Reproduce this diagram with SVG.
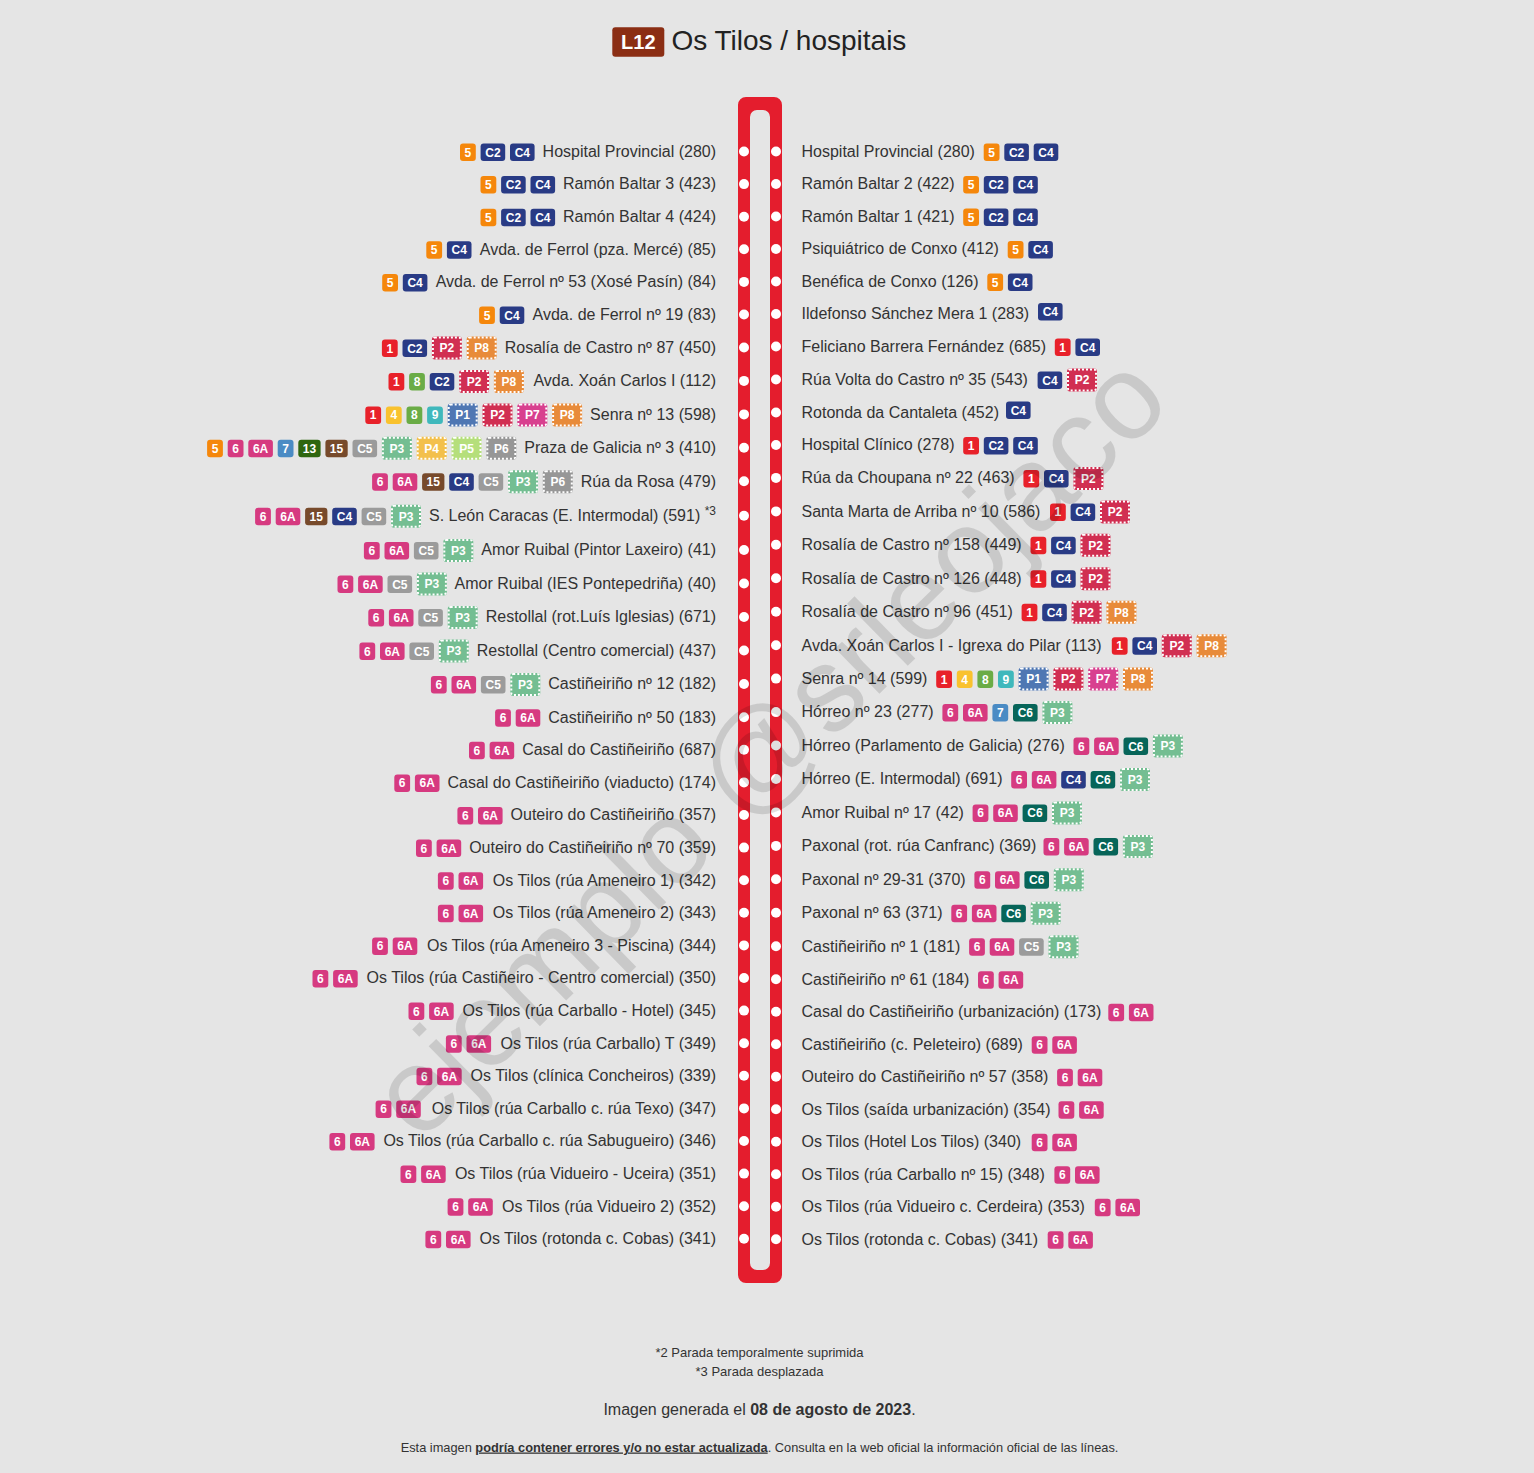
<svg xmlns="http://www.w3.org/2000/svg" width="1534" height="1473" viewBox="0 0 1534 1473">
<style>
text{font-family:"Liberation Sans",Arial,sans-serif}
.s{font-size:16px;fill:#333}
.e{text-anchor:end}
.x{font-size:12px;font-weight:bold;fill:#fff;text-anchor:middle}
.d{fill:none;stroke:#fff;stroke-width:2;stroke-dasharray:2 2}
.o{fill:#fff}
.k1{fill:#e8212a}.k4{fill:#f9c22e}.k5{fill:#f5870b}.k6{fill:#d63a80}.k7{fill:#4a8bc4}.k8{fill:#6aac46}.k9{fill:#3fb8bc}
.k13{fill:#2e660f}.k15{fill:#774a2b}.kc{fill:#293b85}.kc5{fill:#9b9b9b}.kc6{fill:#076559}
.p1{fill:#4f77b3}.p2{fill:#d12f52}.p3{fill:#74be92}.p4{fill:#f3c04c}.p5{fill:#b5df7b}.p6{fill:#979797}.p7{fill:#d8408f}.p8{fill:#e88b3a}
.f{fill:#333;text-anchor:middle}
</style>
<rect width="1534" height="1473" fill="#e5e5e5"/>
<g id="title">
<rect x="612.3" y="27.3" width="52" height="29.4" rx="3" fill="#8b2e14"/>
<text x="638.3" y="49.3" font-size="20" font-weight="bold" fill="#fff" text-anchor="middle">L12</text>
<text x="671.4" y="50" font-size="28" fill="#222">Os Tilos / hospitais</text>
</g>
<g id="connectors">
<path fill="#e41d2d" fill-rule="evenodd" d="M746,97 H774 A8,8 0 0 1 782,105 V1275 A8,8 0 0 1 774,1283 H746 A8,8 0 0 1 738,1275 V105 A8,8 0 0 1 746,97 Z M757,110 H763 A7,7 0 0 1 770,117 V1263 A7,7 0 0 1 763,1270 H757 A7,7 0 0 1 750,1263 V117 A7,7 0 0 1 757,110 Z"/>
</g>
<g id="stops-left">
<g id="l01" transform="translate(0,151)"><circle class="o" cx="744" cy="0.5" r="5"/><rect class="k5" x="460" y="-7.5" width="15.8" height="17.5" rx="3"/><text class="x" x="467.9" y="5.5">5</text><rect class="kc" x="480.6" y="-7.5" width="24.6" height="17.5" rx="3"/><text class="x" x="492.9" y="5.5">C2</text><rect class="kc" x="510" y="-7.5" width="24.6" height="17.5" rx="3"/><text class="x" x="522.3" y="5.5">C4</text><text class="s e" x="716" y="5.8">Hospital Provincial (280)</text></g>
<g id="l02" transform="translate(0,183.6)"><circle class="o" cx="744" cy="0.5" r="5"/><rect class="k5" x="480.5" y="-7.5" width="15.8" height="17.5" rx="3"/><text class="x" x="488.4" y="5.5">5</text><rect class="kc" x="501.1" y="-7.5" width="24.6" height="17.5" rx="3"/><text class="x" x="513.4" y="5.5">C2</text><rect class="kc" x="530.5" y="-7.5" width="24.6" height="17.5" rx="3"/><text class="x" x="542.8" y="5.5">C4</text><text class="s e" x="716" y="5.8">Ramón Baltar 3 (423)</text></g>
<g id="l03" transform="translate(0,216.2)"><circle class="o" cx="744" cy="0.5" r="5"/><rect class="k5" x="480.5" y="-7.5" width="15.8" height="17.5" rx="3"/><text class="x" x="488.4" y="5.5">5</text><rect class="kc" x="501.1" y="-7.5" width="24.6" height="17.5" rx="3"/><text class="x" x="513.4" y="5.5">C2</text><rect class="kc" x="530.5" y="-7.5" width="24.6" height="17.5" rx="3"/><text class="x" x="542.8" y="5.5">C4</text><text class="s e" x="716" y="5.8">Ramón Baltar 4 (424)</text></g>
<g id="l04" transform="translate(0,248.8)"><circle class="o" cx="744" cy="0.5" r="5"/><rect class="k5" x="426.3" y="-7.5" width="15.8" height="17.5" rx="3"/><text class="x" x="434.2" y="5.5">5</text><rect class="kc" x="446.9" y="-7.5" width="24.6" height="17.5" rx="3"/><text class="x" x="459.2" y="5.5">C4</text><text class="s e" x="716" y="5.8">Avda. de Ferrol (pza. Mercé) (85)</text></g>
<g id="l05" transform="translate(0,281.4)"><circle class="o" cx="744" cy="0.5" r="5"/><rect class="k5" x="382.2" y="-7.5" width="15.8" height="17.5" rx="3"/><text class="x" x="390.1" y="5.5">5</text><rect class="kc" x="402.8" y="-7.5" width="24.6" height="17.5" rx="3"/><text class="x" x="415.1" y="5.5">C4</text><text class="s e" x="716" y="5.8">Avda. de Ferrol nº 53 (Xosé Pasín) (84)</text></g>
<g id="l06" transform="translate(0,314)"><circle class="o" cx="744" cy="0.5" r="5"/><rect class="k5" x="479.1" y="-7.5" width="15.8" height="17.5" rx="3"/><text class="x" x="487" y="5.5">5</text><rect class="kc" x="499.7" y="-7.5" width="24.6" height="17.5" rx="3"/><text class="x" x="512" y="5.5">C4</text><text class="s e" x="716" y="5.8">Avda. de Ferrol nº 19 (83)</text></g>
<g id="l07" transform="translate(0,347)"><circle class="o" cx="744" cy="0.5" r="5"/><rect class="k1" x="381.9" y="-7.5" width="15.8" height="17.5" rx="3"/><text class="x" x="389.8" y="5.5">1</text><rect class="kc" x="402.5" y="-7.5" width="24.6" height="17.5" rx="3"/><text class="x" x="414.8" y="5.5">C2</text><rect class="p2" x="431.9" y="-10.5" width="30" height="23" rx="3"/><rect class="d" x="432.9" y="-9.5" width="28" height="21" rx="2"/><text class="x" x="446.9" y="5.3">P2</text><rect class="p8" x="466.7" y="-10.5" width="30" height="23" rx="3"/><rect class="d" x="467.7" y="-9.5" width="28" height="21" rx="2"/><text class="x" x="481.7" y="5.3">P8</text><text class="s e" x="716" y="5.8">Rosalía de Castro nº 87 (450)</text></g>
<g id="l08" transform="translate(0,380.4)"><circle class="o" cx="744" cy="0.5" r="5"/><rect class="k1" x="388.5" y="-7.5" width="15.8" height="17.5" rx="3"/><text class="x" x="396.4" y="5.5">1</text><rect class="k8" x="409.1" y="-7.5" width="15.8" height="17.5" rx="3"/><text class="x" x="417" y="5.5">8</text><rect class="kc" x="429.7" y="-7.5" width="24.6" height="17.5" rx="3"/><text class="x" x="442" y="5.5">C2</text><rect class="p2" x="459.1" y="-10.5" width="30" height="23" rx="3"/><rect class="d" x="460.1" y="-9.5" width="28" height="21" rx="2"/><text class="x" x="474.1" y="5.3">P2</text><rect class="p8" x="493.9" y="-10.5" width="30" height="23" rx="3"/><rect class="d" x="494.9" y="-9.5" width="28" height="21" rx="2"/><text class="x" x="508.9" y="5.3">P8</text><text class="s e" x="716" y="5.8">Avda. Xoán Carlos I (112)</text></g>
<g id="l09" transform="translate(0,413.9)"><circle class="o" cx="744" cy="0.5" r="5"/><rect class="k1" x="365.3" y="-7.5" width="15.8" height="17.5" rx="3"/><text class="x" x="373.2" y="5.5">1</text><rect class="k4" x="385.9" y="-7.5" width="15.8" height="17.5" rx="3"/><text class="x" x="393.8" y="5.5">4</text><rect class="k8" x="406.5" y="-7.5" width="15.8" height="17.5" rx="3"/><text class="x" x="414.4" y="5.5">8</text><rect class="k9" x="427.1" y="-7.5" width="15.8" height="17.5" rx="3"/><text class="x" x="435" y="5.5">9</text><rect class="p1" x="447.7" y="-10.5" width="30" height="23" rx="3"/><rect class="d" x="448.7" y="-9.5" width="28" height="21" rx="2"/><text class="x" x="462.7" y="5.3">P1</text><rect class="p2" x="482.5" y="-10.5" width="30" height="23" rx="3"/><rect class="d" x="483.5" y="-9.5" width="28" height="21" rx="2"/><text class="x" x="497.5" y="5.3">P2</text><rect class="p7" x="517.3" y="-10.5" width="30" height="23" rx="3"/><rect class="d" x="518.3" y="-9.5" width="28" height="21" rx="2"/><text class="x" x="532.3" y="5.3">P7</text><rect class="p8" x="552.1" y="-10.5" width="30" height="23" rx="3"/><rect class="d" x="553.1" y="-9.5" width="28" height="21" rx="2"/><text class="x" x="567.1" y="5.3">P8</text><text class="s e" x="716" y="5.8">Senra nº 13 (598)</text></g>
<g id="l10" transform="translate(0,447.3)"><circle class="o" cx="744" cy="0.5" r="5"/><rect class="k5" x="207.1" y="-7.5" width="15.8" height="17.5" rx="3"/><text class="x" x="215" y="5.5">5</text><rect class="k6" x="227.7" y="-7.5" width="15.8" height="17.5" rx="3"/><text class="x" x="235.6" y="5.5">6</text><rect class="k6" x="248.3" y="-7.5" width="24.6" height="17.5" rx="3"/><text class="x" x="260.6" y="5.5">6A</text><rect class="k7" x="277.7" y="-7.5" width="15.8" height="17.5" rx="3"/><text class="x" x="285.6" y="5.5">7</text><rect class="k13" x="298.3" y="-7.5" width="22.3" height="17.5" rx="3"/><text class="x" x="309.45" y="5.5">13</text><rect class="k15" x="325.4" y="-7.5" width="22.3" height="17.5" rx="3"/><text class="x" x="336.55" y="5.5">15</text><rect class="kc5" x="352.5" y="-7.5" width="24.6" height="17.5" rx="3"/><text class="x" x="364.8" y="5.5">C5</text><rect class="p3" x="381.9" y="-10.5" width="30" height="23" rx="3"/><rect class="d" x="382.9" y="-9.5" width="28" height="21" rx="2"/><text class="x" x="396.9" y="5.3">P3</text><rect class="p4" x="416.7" y="-10.5" width="30" height="23" rx="3"/><rect class="d" x="417.7" y="-9.5" width="28" height="21" rx="2"/><text class="x" x="431.7" y="5.3">P4</text><rect class="p5" x="451.5" y="-10.5" width="30" height="23" rx="3"/><rect class="d" x="452.5" y="-9.5" width="28" height="21" rx="2"/><text class="x" x="466.5" y="5.3">P5</text><rect class="p6" x="486.3" y="-10.5" width="30" height="23" rx="3"/><rect class="d" x="487.3" y="-9.5" width="28" height="21" rx="2"/><text class="x" x="501.3" y="5.3">P6</text><text class="s e" x="716" y="5.8">Praza de Galicia nº 3 (410)</text></g>
<g id="l11" transform="translate(0,480.8)"><circle class="o" cx="744" cy="0.5" r="5"/><rect class="k6" x="372.1" y="-7.5" width="15.8" height="17.5" rx="3"/><text class="x" x="380" y="5.5">6</text><rect class="k6" x="392.7" y="-7.5" width="24.6" height="17.5" rx="3"/><text class="x" x="405" y="5.5">6A</text><rect class="k15" x="422.1" y="-7.5" width="22.3" height="17.5" rx="3"/><text class="x" x="433.25" y="5.5">15</text><rect class="kc" x="449.2" y="-7.5" width="24.6" height="17.5" rx="3"/><text class="x" x="461.5" y="5.5">C4</text><rect class="kc5" x="478.6" y="-7.5" width="24.6" height="17.5" rx="3"/><text class="x" x="490.9" y="5.5">C5</text><rect class="p3" x="508" y="-10.5" width="30" height="23" rx="3"/><rect class="d" x="509" y="-9.5" width="28" height="21" rx="2"/><text class="x" x="523" y="5.3">P3</text><rect class="p6" x="542.8" y="-10.5" width="30" height="23" rx="3"/><rect class="d" x="543.8" y="-9.5" width="28" height="21" rx="2"/><text class="x" x="557.8" y="5.3">P6</text><text class="s e" x="716" y="5.8">Rúa da Rosa (479)</text></g>
<g id="l12" transform="translate(0,515.3)"><circle class="o" cx="744" cy="0.5" r="5"/><rect class="k6" x="255.1" y="-7.5" width="15.8" height="17.5" rx="3"/><text class="x" x="263" y="5.5">6</text><rect class="k6" x="275.7" y="-7.5" width="24.6" height="17.5" rx="3"/><text class="x" x="288" y="5.5">6A</text><rect class="k15" x="305.1" y="-7.5" width="22.3" height="17.5" rx="3"/><text class="x" x="316.25" y="5.5">15</text><rect class="kc" x="332.2" y="-7.5" width="24.6" height="17.5" rx="3"/><text class="x" x="344.5" y="5.5">C4</text><rect class="kc5" x="361.6" y="-7.5" width="24.6" height="17.5" rx="3"/><text class="x" x="373.9" y="5.5">C5</text><rect class="p3" x="391" y="-10.5" width="30" height="23" rx="3"/><rect class="d" x="392" y="-9.5" width="28" height="21" rx="2"/><text class="x" x="406" y="5.3">P3</text><text class="s e" x="716" y="5.8">S. León Caracas (E. Intermodal) (591) <tspan font-size="12" dy="-6">*3</tspan></text></g>
<g id="l13" transform="translate(0,549.5)"><circle class="o" cx="744" cy="0.5" r="5"/><rect class="k6" x="363.9" y="-7.5" width="15.8" height="17.5" rx="3"/><text class="x" x="371.8" y="5.5">6</text><rect class="k6" x="384.5" y="-7.5" width="24.6" height="17.5" rx="3"/><text class="x" x="396.8" y="5.5">6A</text><rect class="kc5" x="413.9" y="-7.5" width="24.6" height="17.5" rx="3"/><text class="x" x="426.2" y="5.5">C5</text><rect class="p3" x="443.3" y="-10.5" width="30" height="23" rx="3"/><rect class="d" x="444.3" y="-9.5" width="28" height="21" rx="2"/><text class="x" x="458.3" y="5.3">P3</text><text class="s e" x="716" y="5.8">Amor Ruibal (Pintor Laxeiro) (41)</text></g>
<g id="l14" transform="translate(0,583)"><circle class="o" cx="744" cy="0.5" r="5"/><rect class="k6" x="337.5" y="-7.5" width="15.8" height="17.5" rx="3"/><text class="x" x="345.4" y="5.5">6</text><rect class="k6" x="358.1" y="-7.5" width="24.6" height="17.5" rx="3"/><text class="x" x="370.4" y="5.5">6A</text><rect class="kc5" x="387.5" y="-7.5" width="24.6" height="17.5" rx="3"/><text class="x" x="399.8" y="5.5">C5</text><rect class="p3" x="416.9" y="-10.5" width="30" height="23" rx="3"/><rect class="d" x="417.9" y="-9.5" width="28" height="21" rx="2"/><text class="x" x="431.9" y="5.3">P3</text><text class="s e" x="716" y="5.8">Amor Ruibal (IES Pontepedriña) (40)</text></g>
<g id="l15" transform="translate(0,616.5)"><circle class="o" cx="744" cy="0.5" r="5"/><rect class="k6" x="368.3" y="-7.5" width="15.8" height="17.5" rx="3"/><text class="x" x="376.2" y="5.5">6</text><rect class="k6" x="388.9" y="-7.5" width="24.6" height="17.5" rx="3"/><text class="x" x="401.2" y="5.5">6A</text><rect class="kc5" x="418.3" y="-7.5" width="24.6" height="17.5" rx="3"/><text class="x" x="430.6" y="5.5">C5</text><rect class="p3" x="447.7" y="-10.5" width="30" height="23" rx="3"/><rect class="d" x="448.7" y="-9.5" width="28" height="21" rx="2"/><text class="x" x="462.7" y="5.3">P3</text><text class="s e" x="716" y="5.8">Restollal (rot.Luís Iglesias) (671)</text></g>
<g id="l16" transform="translate(0,650)"><circle class="o" cx="744" cy="0.5" r="5"/><rect class="k6" x="359.4" y="-7.5" width="15.8" height="17.5" rx="3"/><text class="x" x="367.3" y="5.5">6</text><rect class="k6" x="380" y="-7.5" width="24.6" height="17.5" rx="3"/><text class="x" x="392.3" y="5.5">6A</text><rect class="kc5" x="409.4" y="-7.5" width="24.6" height="17.5" rx="3"/><text class="x" x="421.7" y="5.5">C5</text><rect class="p3" x="438.8" y="-10.5" width="30" height="23" rx="3"/><rect class="d" x="439.8" y="-9.5" width="28" height="21" rx="2"/><text class="x" x="453.8" y="5.3">P3</text><text class="s e" x="716" y="5.8">Restollal (Centro comercial) (437)</text></g>
<g id="l17" transform="translate(0,683.5)"><circle class="o" cx="744" cy="0.5" r="5"/><rect class="k6" x="430.9" y="-7.5" width="15.8" height="17.5" rx="3"/><text class="x" x="438.8" y="5.5">6</text><rect class="k6" x="451.5" y="-7.5" width="24.6" height="17.5" rx="3"/><text class="x" x="463.8" y="5.5">6A</text><rect class="kc5" x="480.9" y="-7.5" width="24.6" height="17.5" rx="3"/><text class="x" x="493.2" y="5.5">C5</text><rect class="p3" x="510.3" y="-10.5" width="30" height="23" rx="3"/><rect class="d" x="511.3" y="-9.5" width="28" height="21" rx="2"/><text class="x" x="525.3" y="5.3">P3</text><text class="s e" x="716" y="5.8">Castiñeiriño nº 12 (182)</text></g>
<g id="l18" transform="translate(0,716.7)"><circle class="o" cx="744" cy="0.5" r="5"/><rect class="k6" x="495.1" y="-7.5" width="15.8" height="17.5" rx="3"/><text class="x" x="503" y="5.5">6</text><rect class="k6" x="515.7" y="-7.5" width="24.6" height="17.5" rx="3"/><text class="x" x="528" y="5.5">6A</text><text class="s e" x="716" y="5.8">Castiñeiriño nº 50 (183)</text></g>
<g id="l19" transform="translate(0,749.3)"><circle class="o" cx="744" cy="0.5" r="5"/><rect class="k6" x="469" y="-7.5" width="15.8" height="17.5" rx="3"/><text class="x" x="476.9" y="5.5">6</text><rect class="k6" x="489.6" y="-7.5" width="24.6" height="17.5" rx="3"/><text class="x" x="501.9" y="5.5">6A</text><text class="s e" x="716" y="5.8">Casal do Castiñeiriño (687)</text></g>
<g id="l20" transform="translate(0,781.9)"><circle class="o" cx="744" cy="0.5" r="5"/><rect class="k6" x="394.3" y="-7.5" width="15.8" height="17.5" rx="3"/><text class="x" x="402.2" y="5.5">6</text><rect class="k6" x="414.9" y="-7.5" width="24.6" height="17.5" rx="3"/><text class="x" x="427.2" y="5.5">6A</text><text class="s e" x="716" y="5.8">Casal do Castiñeiriño (viaducto) (174)</text></g>
<g id="l21" transform="translate(0,814.5)"><circle class="o" cx="744" cy="0.5" r="5"/><rect class="k6" x="457.4" y="-7.5" width="15.8" height="17.5" rx="3"/><text class="x" x="465.3" y="5.5">6</text><rect class="k6" x="478" y="-7.5" width="24.6" height="17.5" rx="3"/><text class="x" x="490.3" y="5.5">6A</text><text class="s e" x="716" y="5.8">Outeiro do Castiñeiriño (357)</text></g>
<g id="l22" transform="translate(0,847.1)"><circle class="o" cx="744" cy="0.5" r="5"/><rect class="k6" x="416" y="-7.5" width="15.8" height="17.5" rx="3"/><text class="x" x="423.9" y="5.5">6</text><rect class="k6" x="436.6" y="-7.5" width="24.6" height="17.5" rx="3"/><text class="x" x="448.9" y="5.5">6A</text><text class="s e" x="716" y="5.8">Outeiro do Castiñeiriño nº 70 (359)</text></g>
<g id="l23" transform="translate(0,879.7)"><circle class="o" cx="744" cy="0.5" r="5"/><rect class="k6" x="437.9" y="-7.5" width="15.8" height="17.5" rx="3"/><text class="x" x="445.8" y="5.5">6</text><rect class="k6" x="458.5" y="-7.5" width="24.6" height="17.5" rx="3"/><text class="x" x="470.8" y="5.5">6A</text><text class="s e" x="716" y="5.8">Os Tilos (rúa Ameneiro 1) (342)</text></g>
<g id="l24" transform="translate(0,912.3)"><circle class="o" cx="744" cy="0.5" r="5"/><rect class="k6" x="437.9" y="-7.5" width="15.8" height="17.5" rx="3"/><text class="x" x="445.8" y="5.5">6</text><rect class="k6" x="458.5" y="-7.5" width="24.6" height="17.5" rx="3"/><text class="x" x="470.8" y="5.5">6A</text><text class="s e" x="716" y="5.8">Os Tilos (rúa Ameneiro 2) (343)</text></g>
<g id="l25" transform="translate(0,944.9)"><circle class="o" cx="744" cy="0.5" r="5"/><rect class="k6" x="372.1" y="-7.5" width="15.8" height="17.5" rx="3"/><text class="x" x="380" y="5.5">6</text><rect class="k6" x="392.7" y="-7.5" width="24.6" height="17.5" rx="3"/><text class="x" x="405" y="5.5">6A</text><text class="s e" x="716" y="5.8">Os Tilos (rúa Ameneiro 3 - Piscina) (344)</text></g>
<g id="l26" transform="translate(0,977.5)"><circle class="o" cx="744" cy="0.5" r="5"/><rect class="k6" x="312.5" y="-7.5" width="15.8" height="17.5" rx="3"/><text class="x" x="320.4" y="5.5">6</text><rect class="k6" x="333.1" y="-7.5" width="24.6" height="17.5" rx="3"/><text class="x" x="345.4" y="5.5">6A</text><text class="s e" x="716" y="5.8">Os Tilos (rúa Castiñeiro - Centro comercial) (350)</text></g>
<g id="l27" transform="translate(0,1010.1)"><circle class="o" cx="744" cy="0.5" r="5"/><rect class="k6" x="408.5" y="-7.5" width="15.8" height="17.5" rx="3"/><text class="x" x="416.4" y="5.5">6</text><rect class="k6" x="429.1" y="-7.5" width="24.6" height="17.5" rx="3"/><text class="x" x="441.4" y="5.5">6A</text><text class="s e" x="716" y="5.8">Os Tilos (rúa Carballo - Hotel) (345)</text></g>
<g id="l28" transform="translate(0,1042.7)"><circle class="o" cx="744" cy="0.5" r="5"/><rect class="k6" x="445.9" y="-7.5" width="15.8" height="17.5" rx="3"/><text class="x" x="453.8" y="5.5">6</text><rect class="k6" x="466.5" y="-7.5" width="24.6" height="17.5" rx="3"/><text class="x" x="478.8" y="5.5">6A</text><text class="s e" x="716" y="5.8">Os Tilos (rúa Carballo) T (349)</text></g>
<g id="l29" transform="translate(0,1075.3)"><circle class="o" cx="744" cy="0.5" r="5"/><rect class="k6" x="416.5" y="-7.5" width="15.8" height="17.5" rx="3"/><text class="x" x="424.4" y="5.5">6</text><rect class="k6" x="437.1" y="-7.5" width="24.6" height="17.5" rx="3"/><text class="x" x="449.4" y="5.5">6A</text><text class="s e" x="716" y="5.8">Os Tilos (clínica Concheiros) (339)</text></g>
<g id="l30" transform="translate(0,1107.9)"><circle class="o" cx="744" cy="0.5" r="5"/><rect class="k6" x="375.6" y="-7.5" width="15.8" height="17.5" rx="3"/><text class="x" x="383.5" y="5.5">6</text><rect class="k6" x="396.2" y="-7.5" width="24.6" height="17.5" rx="3"/><text class="x" x="408.5" y="5.5">6A</text><text class="s e" x="716" y="5.8">Os Tilos (rúa Carballo c. rúa Texo) (347)</text></g>
<g id="l31" transform="translate(0,1140.5)"><circle class="o" cx="744" cy="0.5" r="5"/><rect class="k6" x="329.4" y="-7.5" width="15.8" height="17.5" rx="3"/><text class="x" x="337.3" y="5.5">6</text><rect class="k6" x="350" y="-7.5" width="24.6" height="17.5" rx="3"/><text class="x" x="362.3" y="5.5">6A</text><text class="s e" x="716" y="5.8">Os Tilos (rúa Carballo c. rúa Sabugueiro) (346)</text></g>
<g id="l32" transform="translate(0,1173.1)"><circle class="o" cx="744" cy="0.5" r="5"/><rect class="k6" x="400.5" y="-7.5" width="15.8" height="17.5" rx="3"/><text class="x" x="408.4" y="5.5">6</text><rect class="k6" x="421.1" y="-7.5" width="24.6" height="17.5" rx="3"/><text class="x" x="433.4" y="5.5">6A</text><text class="s e" x="716" y="5.8">Os Tilos (rúa Vidueiro - Uceira) (351)</text></g>
<g id="l33" transform="translate(0,1205.7)"><circle class="o" cx="744" cy="0.5" r="5"/><rect class="k6" x="447.6" y="-7.5" width="15.8" height="17.5" rx="3"/><text class="x" x="455.5" y="5.5">6</text><rect class="k6" x="468.2" y="-7.5" width="24.6" height="17.5" rx="3"/><text class="x" x="480.5" y="5.5">6A</text><text class="s e" x="716" y="5.8">Os Tilos (rúa Vidueiro 2) (352)</text></g>
<g id="l34" transform="translate(0,1238.3)"><circle class="o" cx="744" cy="0.5" r="5"/><rect class="k6" x="425.4" y="-7.5" width="15.8" height="17.5" rx="3"/><text class="x" x="433.3" y="5.5">6</text><rect class="k6" x="446" y="-7.5" width="24.6" height="17.5" rx="3"/><text class="x" x="458.3" y="5.5">6A</text><text class="s e" x="716" y="5.8">Os Tilos (rotonda c. Cobas) (341)</text></g>
</g>
<g id="stops-right">
<g id="r01" transform="translate(0,151)"><circle class="o" cx="776" cy="0.5" r="5"/><text class="s" x="801.5" y="5.8">Hospital Provincial (280)</text><rect class="k5" x="983.7" y="-7.5" width="15.8" height="17.5" rx="3"/><text class="x" x="991.6" y="5.5">5</text><rect class="kc" x="1004.3" y="-7.5" width="24.6" height="17.5" rx="3"/><text class="x" x="1016.6" y="5.5">C2</text><rect class="kc" x="1033.7" y="-7.5" width="24.6" height="17.5" rx="3"/><text class="x" x="1046" y="5.5">C4</text></g>
<g id="r02" transform="translate(0,183.5)"><circle class="o" cx="776" cy="0.5" r="5"/><text class="s" x="801.5" y="5.8">Ramón Baltar 2 (422)</text><rect class="k5" x="963.2" y="-7.5" width="15.8" height="17.5" rx="3"/><text class="x" x="971.1" y="5.5">5</text><rect class="kc" x="983.8" y="-7.5" width="24.6" height="17.5" rx="3"/><text class="x" x="996.1" y="5.5">C2</text><rect class="kc" x="1013.2" y="-7.5" width="24.6" height="17.5" rx="3"/><text class="x" x="1025.5" y="5.5">C4</text></g>
<g id="r03" transform="translate(0,216)"><circle class="o" cx="776" cy="0.5" r="5"/><text class="s" x="801.5" y="5.8">Ramón Baltar 1 (421)</text><rect class="k5" x="963.2" y="-7.5" width="15.8" height="17.5" rx="3"/><text class="x" x="971.1" y="5.5">5</text><rect class="kc" x="983.8" y="-7.5" width="24.6" height="17.5" rx="3"/><text class="x" x="996.1" y="5.5">C2</text><rect class="kc" x="1013.2" y="-7.5" width="24.6" height="17.5" rx="3"/><text class="x" x="1025.5" y="5.5">C4</text></g>
<g id="r04" transform="translate(0,248.5)"><circle class="o" cx="776" cy="0.5" r="5"/><text class="s" x="801.5" y="5.8">Psiquiátrico de Conxo (412)</text><rect class="k5" x="1007.7" y="-7.5" width="15.8" height="17.5" rx="3"/><text class="x" x="1015.6" y="5.5">5</text><rect class="kc" x="1028.3" y="-7.5" width="24.6" height="17.5" rx="3"/><text class="x" x="1040.6" y="5.5">C4</text></g>
<g id="r05" transform="translate(0,281)"><circle class="o" cx="776" cy="0.5" r="5"/><text class="s" x="801.5" y="5.8">Benéfica de Conxo (126)</text><rect class="k5" x="987.3" y="-7.5" width="15.8" height="17.5" rx="3"/><text class="x" x="995.2" y="5.5">5</text><rect class="kc" x="1007.9" y="-7.5" width="24.6" height="17.5" rx="3"/><text class="x" x="1020.2" y="5.5">C4</text></g>
<g id="r06" transform="translate(0,313.5)"><circle class="o" cx="776" cy="0.5" r="5"/><text class="s" x="801.5" y="5.8">Ildefonso Sánchez Mera 1 (283)</text><rect class="kc" x="1038" y="-10.5" width="24.6" height="17.5" rx="3"/><text class="x" x="1050.3" y="2.5">C4</text></g>
<g id="r07" transform="translate(0,346)"><circle class="o" cx="776" cy="0.5" r="5"/><text class="s" x="801.5" y="5.8">Feliciano Barrera Fernández (685)</text><rect class="k1" x="1054.8" y="-7.5" width="15.8" height="17.5" rx="3"/><text class="x" x="1062.7" y="5.5">1</text><rect class="kc" x="1075.4" y="-7.5" width="24.6" height="17.5" rx="3"/><text class="x" x="1087.7" y="5.5">C4</text></g>
<g id="r08" transform="translate(0,379)"><circle class="o" cx="776" cy="0.5" r="5"/><text class="s" x="801.5" y="5.8">Rúa Volta do Castro nº 35 (543)</text><rect class="kc" x="1037.6" y="-7.5" width="24.6" height="17.5" rx="3"/><text class="x" x="1049.9" y="5.5">C4</text><rect class="p2" x="1067" y="-10.5" width="30" height="23" rx="3"/><rect class="d" x="1068" y="-9.5" width="28" height="21" rx="2"/><text class="x" x="1082" y="5.3">P2</text></g>
<g id="r09" transform="translate(0,412)"><circle class="o" cx="776" cy="0.5" r="5"/><text class="s" x="801.5" y="5.8">Rotonda da Cantaleta (452)</text><rect class="kc" x="1006" y="-10.5" width="24.6" height="17.5" rx="3"/><text class="x" x="1018.3" y="2.5">C4</text></g>
<g id="r10" transform="translate(0,444.5)"><circle class="o" cx="776" cy="0.5" r="5"/><text class="s" x="801.5" y="5.8">Hospital Clínico (278)</text><rect class="k1" x="963.2" y="-7.5" width="15.8" height="17.5" rx="3"/><text class="x" x="971.1" y="5.5">1</text><rect class="kc" x="983.8" y="-7.5" width="24.6" height="17.5" rx="3"/><text class="x" x="996.1" y="5.5">C2</text><rect class="kc" x="1013.2" y="-7.5" width="24.6" height="17.5" rx="3"/><text class="x" x="1025.5" y="5.5">C4</text></g>
<g id="r11" transform="translate(0,477.4)"><circle class="o" cx="776" cy="0.5" r="5"/><text class="s" x="801.5" y="5.8">Rúa da Choupana nº 22 (463)</text><rect class="k1" x="1023.4" y="-7.5" width="15.8" height="17.5" rx="3"/><text class="x" x="1031.3" y="5.5">1</text><rect class="kc" x="1044" y="-7.5" width="24.6" height="17.5" rx="3"/><text class="x" x="1056.3" y="5.5">C4</text><rect class="p2" x="1073.4" y="-10.5" width="30" height="23" rx="3"/><rect class="d" x="1074.4" y="-9.5" width="28" height="21" rx="2"/><text class="x" x="1088.4" y="5.3">P2</text></g>
<g id="r12" transform="translate(0,510.9)"><circle class="o" cx="776" cy="0.5" r="5"/><text class="s" x="801.5" y="5.8">Santa Marta de Arriba nº 10 (586)</text><rect class="k1" x="1050" y="-7.5" width="15.8" height="17.5" rx="3"/><text class="x" x="1057.9" y="5.5">1</text><rect class="kc" x="1070.6" y="-7.5" width="24.6" height="17.5" rx="3"/><text class="x" x="1082.9" y="5.5">C4</text><rect class="p2" x="1100" y="-10.5" width="30" height="23" rx="3"/><rect class="d" x="1101" y="-9.5" width="28" height="21" rx="2"/><text class="x" x="1115" y="5.3">P2</text></g>
<g id="r13" transform="translate(0,544.3)"><circle class="o" cx="776" cy="0.5" r="5"/><text class="s" x="801.5" y="5.8">Rosalía de Castro nº 158 (449)</text><rect class="k1" x="1030.5" y="-7.5" width="15.8" height="17.5" rx="3"/><text class="x" x="1038.4" y="5.5">1</text><rect class="kc" x="1051.1" y="-7.5" width="24.6" height="17.5" rx="3"/><text class="x" x="1063.4" y="5.5">C4</text><rect class="p2" x="1080.5" y="-10.5" width="30" height="23" rx="3"/><rect class="d" x="1081.5" y="-9.5" width="28" height="21" rx="2"/><text class="x" x="1095.5" y="5.3">P2</text></g>
<g id="r14" transform="translate(0,577.8)"><circle class="o" cx="776" cy="0.5" r="5"/><text class="s" x="801.5" y="5.8">Rosalía de Castro nº 126 (448)</text><rect class="k1" x="1030.5" y="-7.5" width="15.8" height="17.5" rx="3"/><text class="x" x="1038.4" y="5.5">1</text><rect class="kc" x="1051.1" y="-7.5" width="24.6" height="17.5" rx="3"/><text class="x" x="1063.4" y="5.5">C4</text><rect class="p2" x="1080.5" y="-10.5" width="30" height="23" rx="3"/><rect class="d" x="1081.5" y="-9.5" width="28" height="21" rx="2"/><text class="x" x="1095.5" y="5.3">P2</text></g>
<g id="r15" transform="translate(0,611.2)"><circle class="o" cx="776" cy="0.5" r="5"/><text class="s" x="801.5" y="5.8">Rosalía de Castro nº 96 (451)</text><rect class="k1" x="1021.6" y="-7.5" width="15.8" height="17.5" rx="3"/><text class="x" x="1029.5" y="5.5">1</text><rect class="kc" x="1042.2" y="-7.5" width="24.6" height="17.5" rx="3"/><text class="x" x="1054.5" y="5.5">C4</text><rect class="p2" x="1071.6" y="-10.5" width="30" height="23" rx="3"/><rect class="d" x="1072.6" y="-9.5" width="28" height="21" rx="2"/><text class="x" x="1086.6" y="5.3">P2</text><rect class="p8" x="1106.4" y="-10.5" width="30" height="23" rx="3"/><rect class="d" x="1107.4" y="-9.5" width="28" height="21" rx="2"/><text class="x" x="1121.4" y="5.3">P8</text></g>
<g id="r16" transform="translate(0,644.7)"><circle class="o" cx="776" cy="0.5" r="5"/><text class="s" x="801.5" y="5.8">Avda. Xoán Carlos I - Igrexa do Pilar (113)</text><rect class="k1" x="1111.8" y="-7.5" width="15.8" height="17.5" rx="3"/><text class="x" x="1119.7" y="5.5">1</text><rect class="kc" x="1132.4" y="-7.5" width="24.6" height="17.5" rx="3"/><text class="x" x="1144.7" y="5.5">C4</text><rect class="p2" x="1161.8" y="-10.5" width="30" height="23" rx="3"/><rect class="d" x="1162.8" y="-9.5" width="28" height="21" rx="2"/><text class="x" x="1176.8" y="5.3">P2</text><rect class="p8" x="1196.6" y="-10.5" width="30" height="23" rx="3"/><rect class="d" x="1197.6" y="-9.5" width="28" height="21" rx="2"/><text class="x" x="1211.6" y="5.3">P8</text></g>
<g id="r17" transform="translate(0,678.1)"><circle class="o" cx="776" cy="0.5" r="5"/><text class="s" x="801.5" y="5.8">Senra nº 14 (599)</text><rect class="k1" x="936.2" y="-7.5" width="15.8" height="17.5" rx="3"/><text class="x" x="944.1" y="5.5">1</text><rect class="k4" x="956.8" y="-7.5" width="15.8" height="17.5" rx="3"/><text class="x" x="964.7" y="5.5">4</text><rect class="k8" x="977.4" y="-7.5" width="15.8" height="17.5" rx="3"/><text class="x" x="985.3" y="5.5">8</text><rect class="k9" x="998" y="-7.5" width="15.8" height="17.5" rx="3"/><text class="x" x="1005.9" y="5.5">9</text><rect class="p1" x="1018.6" y="-10.5" width="30" height="23" rx="3"/><rect class="d" x="1019.6" y="-9.5" width="28" height="21" rx="2"/><text class="x" x="1033.6" y="5.3">P1</text><rect class="p2" x="1053.4" y="-10.5" width="30" height="23" rx="3"/><rect class="d" x="1054.4" y="-9.5" width="28" height="21" rx="2"/><text class="x" x="1068.4" y="5.3">P2</text><rect class="p7" x="1088.2" y="-10.5" width="30" height="23" rx="3"/><rect class="d" x="1089.2" y="-9.5" width="28" height="21" rx="2"/><text class="x" x="1103.2" y="5.3">P7</text><rect class="p8" x="1123" y="-10.5" width="30" height="23" rx="3"/><rect class="d" x="1124" y="-9.5" width="28" height="21" rx="2"/><text class="x" x="1138" y="5.3">P8</text></g>
<g id="r18" transform="translate(0,711.6)"><circle class="o" cx="776" cy="0.5" r="5"/><text class="s" x="801.5" y="5.8">Hórreo nº 23 (277)</text><rect class="k6" x="942.4" y="-7.5" width="15.8" height="17.5" rx="3"/><text class="x" x="950.3" y="5.5">6</text><rect class="k6" x="963" y="-7.5" width="24.6" height="17.5" rx="3"/><text class="x" x="975.3" y="5.5">6A</text><rect class="k7" x="992.4" y="-7.5" width="15.8" height="17.5" rx="3"/><text class="x" x="1000.3" y="5.5">7</text><rect class="kc6" x="1013" y="-7.5" width="24.6" height="17.5" rx="3"/><text class="x" x="1025.3" y="5.5">C6</text><rect class="p3" x="1042.4" y="-10.5" width="30" height="23" rx="3"/><rect class="d" x="1043.4" y="-9.5" width="28" height="21" rx="2"/><text class="x" x="1057.4" y="5.3">P3</text></g>
<g id="r19" transform="translate(0,745)"><circle class="o" cx="776" cy="0.5" r="5"/><text class="s" x="801.5" y="5.8">Hórreo (Parlamento de Galicia) (276)</text><rect class="k6" x="1073.5" y="-7.5" width="15.8" height="17.5" rx="3"/><text class="x" x="1081.4" y="5.5">6</text><rect class="k6" x="1094.1" y="-7.5" width="24.6" height="17.5" rx="3"/><text class="x" x="1106.4" y="5.5">6A</text><rect class="kc6" x="1123.5" y="-7.5" width="24.6" height="17.5" rx="3"/><text class="x" x="1135.8" y="5.5">C6</text><rect class="p3" x="1152.9" y="-10.5" width="30" height="23" rx="3"/><rect class="d" x="1153.9" y="-9.5" width="28" height="21" rx="2"/><text class="x" x="1167.9" y="5.3">P3</text></g>
<g id="r20" transform="translate(0,778.5)"><circle class="o" cx="776" cy="0.5" r="5"/><text class="s" x="801.5" y="5.8">Hórreo (E. Intermodal) (691)</text><rect class="k6" x="1011.2" y="-7.5" width="15.8" height="17.5" rx="3"/><text class="x" x="1019.1" y="5.5">6</text><rect class="k6" x="1031.8" y="-7.5" width="24.6" height="17.5" rx="3"/><text class="x" x="1044.1" y="5.5">6A</text><rect class="kc" x="1061.2" y="-7.5" width="24.6" height="17.5" rx="3"/><text class="x" x="1073.5" y="5.5">C4</text><rect class="kc6" x="1090.6" y="-7.5" width="24.6" height="17.5" rx="3"/><text class="x" x="1102.9" y="5.5">C6</text><rect class="p3" x="1120" y="-10.5" width="30" height="23" rx="3"/><rect class="d" x="1121" y="-9.5" width="28" height="21" rx="2"/><text class="x" x="1135" y="5.3">P3</text></g>
<g id="r21" transform="translate(0,811.9)"><circle class="o" cx="776" cy="0.5" r="5"/><text class="s" x="801.5" y="5.8">Amor Ruibal nº 17 (42)</text><rect class="k6" x="972.6" y="-7.5" width="15.8" height="17.5" rx="3"/><text class="x" x="980.5" y="5.5">6</text><rect class="k6" x="993.2" y="-7.5" width="24.6" height="17.5" rx="3"/><text class="x" x="1005.5" y="5.5">6A</text><rect class="kc6" x="1022.6" y="-7.5" width="24.6" height="17.5" rx="3"/><text class="x" x="1034.9" y="5.5">C6</text><rect class="p3" x="1052" y="-10.5" width="30" height="23" rx="3"/><rect class="d" x="1053" y="-9.5" width="28" height="21" rx="2"/><text class="x" x="1067" y="5.3">P3</text></g>
<g id="r22" transform="translate(0,845.4)"><circle class="o" cx="776" cy="0.5" r="5"/><text class="s" x="801.5" y="5.8">Paxonal (rot. rúa Canfranc) (369)</text><rect class="k6" x="1043.5" y="-7.5" width="15.8" height="17.5" rx="3"/><text class="x" x="1051.4" y="5.5">6</text><rect class="k6" x="1064.1" y="-7.5" width="24.6" height="17.5" rx="3"/><text class="x" x="1076.4" y="5.5">6A</text><rect class="kc6" x="1093.5" y="-7.5" width="24.6" height="17.5" rx="3"/><text class="x" x="1105.8" y="5.5">C6</text><rect class="p3" x="1122.9" y="-10.5" width="30" height="23" rx="3"/><rect class="d" x="1123.9" y="-9.5" width="28" height="21" rx="2"/><text class="x" x="1137.9" y="5.3">P3</text></g>
<g id="r23" transform="translate(0,878.8)"><circle class="o" cx="776" cy="0.5" r="5"/><text class="s" x="801.5" y="5.8">Paxonal nº 29-31 (370)</text><rect class="k6" x="974.4" y="-7.5" width="15.8" height="17.5" rx="3"/><text class="x" x="982.3" y="5.5">6</text><rect class="k6" x="995" y="-7.5" width="24.6" height="17.5" rx="3"/><text class="x" x="1007.3" y="5.5">6A</text><rect class="kc6" x="1024.4" y="-7.5" width="24.6" height="17.5" rx="3"/><text class="x" x="1036.7" y="5.5">C6</text><rect class="p3" x="1053.8" y="-10.5" width="30" height="23" rx="3"/><rect class="d" x="1054.8" y="-9.5" width="28" height="21" rx="2"/><text class="x" x="1068.8" y="5.3">P3</text></g>
<g id="r24" transform="translate(0,912.3)"><circle class="o" cx="776" cy="0.5" r="5"/><text class="s" x="801.5" y="5.8">Paxonal nº 63 (371)</text><rect class="k6" x="951.3" y="-7.5" width="15.8" height="17.5" rx="3"/><text class="x" x="959.2" y="5.5">6</text><rect class="k6" x="971.9" y="-7.5" width="24.6" height="17.5" rx="3"/><text class="x" x="984.2" y="5.5">6A</text><rect class="kc6" x="1001.3" y="-7.5" width="24.6" height="17.5" rx="3"/><text class="x" x="1013.6" y="5.5">C6</text><rect class="p3" x="1030.7" y="-10.5" width="30" height="23" rx="3"/><rect class="d" x="1031.7" y="-9.5" width="28" height="21" rx="2"/><text class="x" x="1045.7" y="5.3">P3</text></g>
<g id="r25" transform="translate(0,945.7)"><circle class="o" cx="776" cy="0.5" r="5"/><text class="s" x="801.5" y="5.8">Castiñeiriño nº 1 (181)</text><rect class="k6" x="969.1" y="-7.5" width="15.8" height="17.5" rx="3"/><text class="x" x="977" y="5.5">6</text><rect class="k6" x="989.7" y="-7.5" width="24.6" height="17.5" rx="3"/><text class="x" x="1002" y="5.5">6A</text><rect class="kc5" x="1019.1" y="-7.5" width="24.6" height="17.5" rx="3"/><text class="x" x="1031.4" y="5.5">C5</text><rect class="p3" x="1048.5" y="-10.5" width="30" height="23" rx="3"/><rect class="d" x="1049.5" y="-9.5" width="28" height="21" rx="2"/><text class="x" x="1063.5" y="5.3">P3</text></g>
<g id="r26" transform="translate(0,978.7)"><circle class="o" cx="776" cy="0.5" r="5"/><text class="s" x="801.5" y="5.8">Castiñeiriño nº 61 (184)</text><rect class="k6" x="978" y="-7.5" width="15.8" height="17.5" rx="3"/><text class="x" x="985.9" y="5.5">6</text><rect class="k6" x="998.6" y="-7.5" width="24.6" height="17.5" rx="3"/><text class="x" x="1010.9" y="5.5">6A</text></g>
<g id="r27" transform="translate(0,1011.2)"><circle class="o" cx="776" cy="0.5" r="5"/><text class="s" x="801.5" y="5.8">Casal do Castiñeiriño (urbanización) (173)</text><rect class="k6" x="1108.3" y="-7.5" width="15.8" height="17.5" rx="3"/><text class="x" x="1116.2" y="5.5">6</text><rect class="k6" x="1128.9" y="-7.5" width="24.6" height="17.5" rx="3"/><text class="x" x="1141.2" y="5.5">6A</text></g>
<g id="r28" transform="translate(0,1043.7)"><circle class="o" cx="776" cy="0.5" r="5"/><text class="s" x="801.5" y="5.8">Castiñeiriño (c. Peleteiro) (689)</text><rect class="k6" x="1031.7" y="-7.5" width="15.8" height="17.5" rx="3"/><text class="x" x="1039.6" y="5.5">6</text><rect class="k6" x="1052.3" y="-7.5" width="24.6" height="17.5" rx="3"/><text class="x" x="1064.6" y="5.5">6A</text></g>
<g id="r29" transform="translate(0,1076.2)"><circle class="o" cx="776" cy="0.5" r="5"/><text class="s" x="801.5" y="5.8">Outeiro do Castiñeiriño nº 57 (358)</text><rect class="k6" x="1057.1" y="-7.5" width="15.8" height="17.5" rx="3"/><text class="x" x="1065" y="5.5">6</text><rect class="k6" x="1077.7" y="-7.5" width="24.6" height="17.5" rx="3"/><text class="x" x="1090" y="5.5">6A</text></g>
<g id="r30" transform="translate(0,1108.7)"><circle class="o" cx="776" cy="0.5" r="5"/><text class="s" x="801.5" y="5.8">Os Tilos (saída urbanización) (354)</text><rect class="k6" x="1058.5" y="-7.5" width="15.8" height="17.5" rx="3"/><text class="x" x="1066.4" y="5.5">6</text><rect class="k6" x="1079.1" y="-7.5" width="24.6" height="17.5" rx="3"/><text class="x" x="1091.4" y="5.5">6A</text></g>
<g id="r31" transform="translate(0,1141.2)"><circle class="o" cx="776" cy="0.5" r="5"/><text class="s" x="801.5" y="5.8">Os Tilos (Hotel Los Tilos) (340)</text><rect class="k6" x="1031.7" y="-7.5" width="15.8" height="17.5" rx="3"/><text class="x" x="1039.6" y="5.5">6</text><rect class="k6" x="1052.3" y="-7.5" width="24.6" height="17.5" rx="3"/><text class="x" x="1064.6" y="5.5">6A</text></g>
<g id="r32" transform="translate(0,1173.7)"><circle class="o" cx="776" cy="0.5" r="5"/><text class="s" x="801.5" y="5.8">Os Tilos (rúa Carballo nº 15) (348)</text><rect class="k6" x="1054.4" y="-7.5" width="15.8" height="17.5" rx="3"/><text class="x" x="1062.3" y="5.5">6</text><rect class="k6" x="1075" y="-7.5" width="24.6" height="17.5" rx="3"/><text class="x" x="1087.3" y="5.5">6A</text></g>
<g id="r33" transform="translate(0,1206.2)"><circle class="o" cx="776" cy="0.5" r="5"/><text class="s" x="801.5" y="5.8">Os Tilos (rúa Vidueiro c. Cerdeira) (353)</text><rect class="k6" x="1094.8" y="-7.5" width="15.8" height="17.5" rx="3"/><text class="x" x="1102.7" y="5.5">6</text><rect class="k6" x="1115.4" y="-7.5" width="24.6" height="17.5" rx="3"/><text class="x" x="1127.7" y="5.5">6A</text></g>
<g id="r34" transform="translate(0,1238.7)"><circle class="o" cx="776" cy="0.5" r="5"/><text class="s" x="801.5" y="5.8">Os Tilos (rotonda c. Cobas) (341)</text><rect class="k6" x="1047.7" y="-7.5" width="15.8" height="17.5" rx="3"/><text class="x" x="1055.6" y="5.5">6</text><rect class="k6" x="1068.3" y="-7.5" width="24.6" height="17.5" rx="3"/><text class="x" x="1080.6" y="5.5">6A</text></g>
</g>
<g id="footer">
<text class="f" x="759.5" y="1356.7" font-size="13">*2 Parada temporalmente suprimida</text>
<text class="f" x="759.5" y="1375.7" font-size="13">*3 Parada desplazada</text>
<text class="f" x="759.5" y="1415" font-size="16">Imagen generada el <tspan font-weight="bold">08 de agosto de 2023</tspan>.</text>
<text class="f" x="759.5" y="1451.5" font-size="12.8">Esta imagen <tspan font-weight="bold" style="text-decoration:underline">podría contener errores y/o no estar actualizada</tspan>. Consulta en la web oficial la información oficial de las líneas.</text>
</g>
<g id="watermark">
<text transform="translate(775,752.5) rotate(-44.4)" x="0" y="31" font-size="120" text-anchor="middle" fill="#000" fill-opacity="0.12">ejemplo @srleojaco</text>
</g>
</svg>
